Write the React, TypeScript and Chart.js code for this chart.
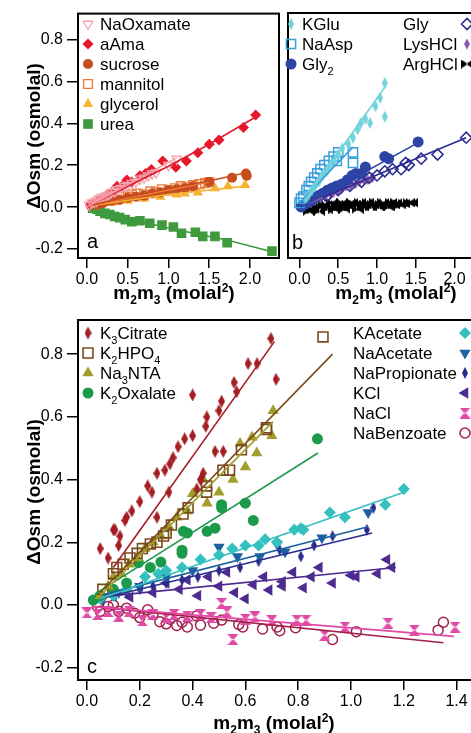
import React, { useEffect, useRef } from 'react';
import { Chart, registerables } from 'chart.js';
import { drawPoint } from 'chart.js/helpers';
Chart.register(...registerables);

const FONT = "'Liberation Sans', Arial, Helvetica, sans-serif";

// ---------- tick values ----------
const A_X_TICKS = [0, 0.5, 1.0, 1.5, 2.0];
const B_X_TICKS = [0, 0.5, 1.0, 1.5, 2.0];
const AB_Y_TICKS = [-0.2, 0, 0.2, 0.4, 0.6, 0.8];
const C_X_TICKS = [0, 0.2, 0.4, 0.6, 0.8, 1.0, 1.2, 1.4];
const C_Y_TICKS = [-0.2, 0, 0.2, 0.4, 0.6, 0.8];

// ---------- panel a ----------
const NAOX_X = [0.03, 0.06, 0.09, 0.12, 0.15, 0.18, 0.21, 0.24, 0.27, 0.3, 0.34, 0.38, 0.42, 0.46, 0.5, 0.55, 0.6, 0.65, 0.7, 0.75, 0.8, 0.85, 1.0, 1.1];
const NAOX_Y = [0.01, 0.02, 0.025, 0.03, 0.04, 0.045, 0.05, 0.055, 0.06, 0.07, 0.075, 0.085, 0.09, 0.1, 0.105, 0.115, 0.12, 0.135, 0.14, 0.15, 0.16, 0.165, 0.2, 0.23];
const NAOX_FX = [0.02, 1.1];
const NAOX_FY = [0.005, 0.235];

const AAMA_X = [0.04, 0.08, 0.13, 0.18, 0.24, 0.3, 0.37, 0.43, 0.49, 0.55, 0.65, 0.72, 0.79, 0.93, 1.09, 1.22, 1.36, 1.5, 1.62, 1.92, 2.07];
const AAMA_Y = [0.01, 0.02, 0.03, 0.04, 0.055, 0.07, 0.1, 0.1, 0.13, 0.12, 0.15, 0.16, 0.18, 0.22, 0.19, 0.22, 0.26, 0.3, 0.32, 0.38, 0.44];
const AAMA_FX = [0.02, 0.5, 1.0, 1.5, 2.07];
const AAMA_FY = [0.005, 0.1, 0.195, 0.3, 0.43];

const SUCR_X = [0.05, 0.1, 0.15, 0.2, 0.3, 0.4, 0.5, 0.6, 0.7, 0.8, 0.9, 1.0, 1.1, 1.2, 1.3, 1.5, 1.78, 1.95, 1.96];
const SUCR_Y = [0.005, 0.01, 0.015, 0.02, 0.03, 0.035, 0.045, 0.05, 0.055, 0.065, 0.07, 0.08, 0.085, 0.09, 0.1, 0.12, 0.14, 0.16, 0.15];
const SUCR_FX = [0.02, 0.5, 1.0, 1.5, 1.96];
const SUCR_FY = [0.005, 0.05, 0.09, 0.125, 0.165];

const MANN_X = [0.08, 0.15, 0.22, 0.3, 0.36, 0.42, 0.5, 0.55, 0.62, 0.7, 0.78, 0.85, 0.92, 1.0, 1.08, 1.15, 1.22, 1.3, 1.38, 1.45, 1.5];
const MANN_Y = [0.01, 0.02, 0.03, 0.04, 0.035, 0.05, 0.05, 0.06, 0.065, 0.06, 0.075, 0.07, 0.085, 0.08, 0.09, 0.1, 0.095, 0.105, 0.11, 0.115, 0.12];
const MANN_FX = [0.02, 1.5];
const MANN_FY = [0.005, 0.12];

const GLYC_X = [0.1, 0.3, 0.5, 0.7, 0.9, 1.1, 1.2, 1.36, 1.57, 1.73, 1.94];
const GLYC_Y = [0.01, 0.02, 0.03, 0.04, 0.05, 0.06, 0.065, 0.07, 0.09, 0.1, 0.105];
const GLYC_FX = [0.02, 1.0, 1.94];
const GLYC_FY = [0.005, 0.06, 0.1];

const UREA_X = [0.07, 0.12, 0.16, 0.22, 0.28, 0.34, 0.4, 0.47, 0.55, 0.65, 0.77, 0.92, 1.06, 1.16, 1.33, 1.42, 1.57, 1.72, 2.27];
const UREA_Y = [-0.005, -0.01, -0.02, -0.03, -0.035, -0.045, -0.05, -0.06, -0.07, -0.065, -0.077, -0.086, -0.095, -0.125, -0.12, -0.14, -0.14, -0.17, -0.21];
const UREA_FX = [0.05, 0.5, 1.0, 1.5, 1.72, 2.27];
const UREA_FY = [-0.01, -0.055, -0.1, -0.14, -0.157, -0.213];

// ---------- panel b ----------
const KGLU_X = [0.08, 0.12, 0.16, 0.2, 0.25, 0.3, 0.35, 0.4, 0.45, 0.5, 0.55, 0.63, 0.69, 0.75, 0.79, 0.85, 0.91, 0.98, 1.04, 1.1, 1.1];
const KGLU_Y = [0.04, 0.06, 0.08, 0.1, 0.12, 0.15, 0.17, 0.2, 0.22, 0.25, 0.28, 0.3, 0.33, 0.37, 0.4, 0.42, 0.4, 0.48, 0.52, 0.59, 0.43];
const KGLU_FX = [0.07, 1.1];
const KGLU_FY = [0.033, 0.57];

const NAASP_X = [0.0, 0.02, 0.05, 0.09, 0.12, 0.15, 0.19, 0.23, 0.27, 0.32, 0.38, 0.44, 0.48, 0.5, 0.69, 0.69];
const NAASP_Y = [0.02, 0.04, 0.05, 0.08, 0.1, 0.12, 0.14, 0.16, 0.18, 0.2, 0.22, 0.24, 0.22, 0.26, 0.26, 0.21];
const NAASP_FX = [0.0, 0.69];
const NAASP_FY = [0.02, 0.285];

const GLY2_X = [0.02, 0.06, 0.1, 0.15, 0.2, 0.25, 0.3, 0.36, 0.42, 0.48, 0.55, 0.62, 0.68, 0.73, 0.8, 0.85, 1.1, 1.15, 1.53];
const GLY2_Y = [0.0, 0.01, 0.02, 0.03, 0.045, 0.055, 0.065, 0.08, 0.09, 0.1, 0.11, 0.13, 0.15, 0.16, 0.16, 0.19, 0.24, 0.23, 0.31];
const GLY2_FX = [0.02, 1.55];
const GLY2_FY = [0.0, 0.31];

const GLY_X = [0.35, 0.5, 0.65, 0.8, 0.9, 1.0, 1.1, 1.2, 1.31, 1.37, 1.41, 1.57, 1.78, 2.15];
const GLY_Y = [0.05, 0.08, 0.1, 0.12, 0.14, 0.15, 0.17, 0.18, 0.18, 0.21, 0.2, 0.23, 0.25, 0.33];
const GLY_FX = [0.3, 2.15];
const GLY_FY = [0.045, 0.33];

const LYS_X = [0.15, 0.2, 0.27, 0.33, 0.4, 0.44, 0.5, 0.55, 0.6, 0.66, 0.72, 0.77, 0.83, 0.88, 0.94];
const LYS_Y = [0.02, 0.03, 0.04, 0.05, 0.06, 0.07, 0.08, 0.09, 0.1, 0.1, 0.11, 0.12, 0.13, 0.13, 0.14];
const LYS_FX = [0.1, 0.95];
const LYS_FY = [0.015, 0.14];

const ARG_X = [0.12, 0.15, 0.18, 0.22, 0.25, 0.28, 0.32, 0.35, 0.38, 0.42, 0.45, 0.48, 0.52, 0.55, 0.58, 0.62, 0.65, 0.68, 0.72, 0.75, 0.78, 0.82, 0.85, 0.88, 0.92, 0.95, 0.98, 1.02, 1.05, 1.08, 1.12, 1.15, 1.18, 1.22, 1.25, 1.3, 1.35, 1.41, 1.45];
const ARG_Y = [-0.02, 0.0, -0.01, 0.01, -0.02, 0.0, 0.01, -0.01, 0.0, 0.02, -0.01, 0.01, 0.0, 0.02, -0.01, 0.01, 0.0, 0.02, 0.01, -0.01, 0.02, 0.0, 0.01, 0.02, 0.0, 0.01, 0.02, 0.0, 0.01, 0.02, 0.01, 0.0, 0.02, 0.01, 0.02, 0.01, 0.015, 0.02, 0.02];

// ---------- panel c ----------
const CIT_X = [0.05, 0.08, 0.1, 0.106, 0.12, 0.125, 0.144, 0.15, 0.17, 0.2, 0.23, 0.246, 0.265, 0.265, 0.295, 0.31, 0.314, 0.326, 0.345, 0.37, 0.4, 0.4, 0.416, 0.43, 0.44, 0.45, 0.454, 0.485, 0.5, 0.51, 0.516, 0.557, 0.567, 0.61, 0.644, 0.697, 0.716];
const CIT_Y = [0.18, 0.15, 0.24, 0.24, 0.19, 0.22, 0.27, 0.28, 0.3, 0.33, 0.38, 0.36, 0.42, 0.28, 0.43, 0.36, 0.45, 0.47, 0.505, 0.53, 0.54, 0.67, 0.37, 0.4, 0.42, 0.57, 0.6, 0.49, 0.62, 0.65, 0.49, 0.71, 0.68, 0.77, 0.77, 0.85, 0.72];
const CIT_FX = [0.1, 0.71];
const CIT_FY = [0.12, 0.84];

const HPO_X = [0.06, 0.1, 0.113, 0.137, 0.163, 0.19, 0.21, 0.24, 0.265, 0.29, 0.3, 0.32, 0.364, 0.383, 0.453, 0.453, 0.515, 0.54, 0.585, 0.68, 0.68, 0.894];
const HPO_Y = [0.05, 0.1, 0.12, 0.13, 0.15, 0.165, 0.18, 0.195, 0.2, 0.22, 0.23, 0.255, 0.29, 0.31, 0.38, 0.36, 0.43, 0.43, 0.495, 0.565, 0.56, 0.855];
const HPO_FX = [0.05, 0.93];
const HPO_FY = [0.04, 0.8];

const NTA_X = [0.05, 0.08, 0.1, 0.13, 0.16, 0.19, 0.22, 0.25, 0.28, 0.31, 0.34, 0.38, 0.4, 0.44, 0.455, 0.5, 0.553, 0.58, 0.6, 0.625, 0.643, 0.7, 0.705];
const NTA_Y = [0.03, 0.06, 0.09, 0.1, 0.13, 0.15, 0.18, 0.2, 0.22, 0.25, 0.28, 0.3, 0.355, 0.4, 0.325, 0.36, 0.4, 0.515, 0.44, 0.535, 0.485, 0.54, 0.62];
const NTA_FX = [0.05, 0.705];
const NTA_FY = [0.03, 0.585];

const OXA_X = [0.024, 0.05, 0.1, 0.15, 0.195, 0.24, 0.28, 0.36, 0.36, 0.365, 0.38, 0.455, 0.485, 0.51, 0.51, 0.6, 0.63, 0.873];
const OXA_Y = [0.016, 0.03, 0.05, 0.07, 0.135, 0.12, 0.137, 0.175, 0.165, 0.235, 0.23, 0.235, 0.245, 0.32, 0.31, 0.325, 0.27, 0.53];
const OXA_FX = [0.03, 0.875];
const OXA_FY = [0.035, 0.485];

const KAC_X = [0.05, 0.1, 0.15, 0.22, 0.27, 0.3, 0.36, 0.43, 0.5, 0.55, 0.6, 0.65, 0.675, 0.72, 0.785, 0.81, 0.82, 0.92, 0.977, 1.13, 1.2];
const KAC_Y = [0.02, 0.03, 0.05, 0.09, 0.1, 0.11, 0.12, 0.145, 0.16, 0.18, 0.19, 0.19, 0.21, 0.2, 0.24, 0.245, 0.24, 0.295, 0.28, 0.32, 0.37];
const KAC_FX = [0.05, 1.2];
const KAC_FY = [0.02, 0.36];

const NAAC_X = [0.06, 0.12, 0.2, 0.3, 0.4, 0.5, 0.57, 0.655, 0.72, 0.75, 0.89, 1.065];
const NAAC_Y = [0.02, 0.04, 0.06, 0.09, 0.11, 0.185, 0.155, 0.155, 0.195, 0.17, 0.215, 0.295];
const NAAC_FX = [0.05, 1.065];
const NAAC_FY = [0.03, 0.25];

const NAPR_X = [0.06, 0.1, 0.15, 0.2, 0.25, 0.3, 0.36, 0.42, 0.5, 0.58, 0.65, 0.73, 0.81, 0.86, 0.93, 1.06, 1.085];
const NAPR_Y = [0.02, 0.03, 0.04, 0.05, 0.06, 0.07, 0.08, 0.09, 0.11, 0.12, 0.14, 0.175, 0.155, 0.19, 0.22, 0.24, 0.31];
const NAPR_FX = [0.05, 1.08];
const NAPR_FY = [0.02, 0.23];

const KCL_X = [0.1, 0.163, 0.2, 0.25, 0.3, 0.35, 0.38, 0.42, 0.46, 0.5, 0.53, 0.56, 0.6, 0.63, 0.67, 0.69, 0.74, 0.74, 0.78, 0.82, 0.85, 0.88, 0.93, 1.0, 1.02, 1.1, 1.136, 1.155];
const KCL_Y = [0.03, 0.025, 0.06, 0.04, 0.07, 0.05, 0.08, 0.03, 0.09, 0.06, 0.105, 0.04, 0.02, 0.065, 0.09, 0.048, 0.075, 0.06, 0.105, 0.055, 0.09, 0.12, 0.07, 0.095, 0.09, 0.1, 0.145, 0.12];
const KCL_FX = [0.1, 1.17];
const KCL_FY = [0.03, 0.12];

const NACL_X = [0.0, 0.04, 0.08, 0.12, 0.16, 0.21, 0.25, 0.3, 0.33, 0.38, 0.43, 0.47, 0.51, 0.53, 0.553, 0.6, 0.636, 0.7, 0.795, 0.83, 0.9, 0.977, 1.14, 1.24, 1.394];
const NACL_Y = [-0.025, -0.03, -0.02, -0.035, -0.02, -0.05, -0.03, -0.04, -0.03, -0.035, -0.03, -0.04, 0.005, -0.022, -0.11, -0.045, -0.038, -0.05, -0.048, -0.048, -0.096, -0.07, -0.058, -0.08, -0.07];
const NACL_FX = [0.02, 1.39];
const NACL_FY = [-0.005, -0.1];

const NABZ_X = [0.04, 0.05, 0.08, 0.1, 0.12, 0.15, 0.18, 0.2, 0.23, 0.25, 0.276, 0.3, 0.315, 0.34, 0.36, 0.38, 0.415, 0.43, 0.48, 0.51, 0.575, 0.59, 0.665, 0.72, 0.73, 0.79, 0.93, 1.02, 1.33, 1.35];
const NABZ_Y = [-0.005, -0.02, -0.005, 0.0, -0.02, -0.01, -0.026, -0.04, -0.015, -0.03, -0.053, -0.06, -0.045, -0.065, -0.055, -0.07, -0.035, -0.064, -0.058, -0.048, -0.062, -0.07, -0.076, -0.07, -0.082, -0.072, -0.11, -0.085, -0.08, -0.055];
const NABZ_FX = [0.03, 1.35];
const NABZ_FY = [-0.005, -0.12];

// ---------- styles ----------
type St = { c: string; shape: string; r: number; rot?: number; open?: boolean; w?: number; h?: number; bw?: number };
type Series = { label: string; x: number[]; y: number[]; fx?: number[]; fy?: number[]; st: St };

const shapeCache = new Map<string, HTMLCanvasElement>();
function customShape(st: St): HTMLCanvasElement {
  const key = st.shape + st.c + st.w + 'x' + st.h;
  const hit = shapeCache.get(key);
  if (hit) return hit;
  const w = st.w || 8, h = st.h || 8;
  const cv = document.createElement('canvas');
  cv.width = w; cv.height = h;
  const g = cv.getContext('2d')!;
  g.fillStyle = st.c;
  g.beginPath();
  if (st.shape === 'thinDiamond') {
    g.moveTo(w / 2, 0); g.lineTo(w, h / 2); g.lineTo(w / 2, h); g.lineTo(0, h / 2); g.closePath();
  } else if (st.shape === 'bowtie') {
    g.moveTo(0, 0); g.lineTo(w / 2 + 1, h / 2); g.lineTo(0, h); g.closePath();
    g.moveTo(w, 0); g.lineTo(w / 2 - 1, h / 2); g.lineTo(w, h); g.closePath();
  } else if (st.shape === 'hourglass') {
    g.moveTo(0, 0); g.lineTo(w, 0); g.lineTo(w / 2, h / 2 + 1); g.closePath();
    g.moveTo(0, h); g.lineTo(w, h); g.lineTo(w / 2, h / 2 - 1); g.closePath();
  }
  g.fill();
  shapeCache.set(key, cv);
  return cv;
}

function pointOpts(st: St) {
  const custom = ['thinDiamond', 'bowtie', 'hourglass'].includes(st.shape);
  return {
    pointStyle: custom ? customShape(st) : st.shape,
    pointRadius: st.r,
    pointRotation: st.rot || 0,
    pointBackgroundColor: st.open ? 'rgba(0,0,0,0)' : st.c,
    pointBorderColor: st.c,
    pointBorderWidth: st.open ? (st.bw || 1.5) : 0,
  };
}

const S_NAOX: Series = { label: 'NaOxamate', x: NAOX_X, y: NAOX_Y, fx: NAOX_FX, fy: NAOX_FY, st: { c: '#f3a3ad', shape: 'triangle', rot: 180, r: 5.5, open: true, bw: 1.3 } };
const S_AAMA: Series = { label: 'aAma', x: AAMA_X, y: AAMA_Y, fx: AAMA_FX, fy: AAMA_FY, st: { c: '#e5192b', shape: 'rectRot', r: 5.5 } };
const S_SUCR: Series = { label: 'sucrose', x: SUCR_X, y: SUCR_Y, fx: SUCR_FX, fy: SUCR_FY, st: { c: '#c54d1f', shape: 'circle', r: 5 } };
const S_MANN: Series = { label: 'mannitol', x: MANN_X, y: MANN_Y, fx: MANN_FX, fy: MANN_FY, st: { c: '#ee7a3c', shape: 'rect', r: 6.2, open: true, bw: 1.4 } };
const S_GLYC: Series = { label: 'glycerol', x: GLYC_X, y: GLYC_Y, fx: GLYC_FX, fy: GLYC_FY, st: { c: '#f8b232', shape: 'triangle', r: 6 } };
const S_UREA: Series = { label: 'urea', x: UREA_X, y: UREA_Y, fx: UREA_FX, fy: UREA_FY, st: { c: '#3f9a3e', shape: 'rect', r: 6.8 } };

const S_KGLU: Series = { label: 'KGlu', x: KGLU_X, y: KGLU_Y, fx: KGLU_FX, fy: KGLU_FY, st: { c: '#70d2da', shape: 'thinDiamond', r: 5, w: 6, h: 12 } };
const S_NAASP: Series = { label: 'NaAsp', x: NAASP_X, y: NAASP_Y, fx: NAASP_FX, fy: NAASP_FY, st: { c: '#3a9edb', shape: 'rect', r: 6.5, open: true, bw: 1.5 } };
const S_GLY2: Series = { label: 'Gly_2', x: GLY2_X, y: GLY2_Y, fx: GLY2_FX, fy: GLY2_FY, st: { c: '#2c44a6', shape: 'circle', r: 5.5 } };
const S_GLY: Series = { label: 'Gly', x: GLY_X, y: GLY_Y, fx: GLY_FX, fy: GLY_FY, st: { c: '#2b2d90', shape: 'rectRot', r: 5.5, open: true, bw: 1.6 } };
const S_LYS: Series = { label: 'LysHCl', x: LYS_X, y: LYS_Y, fx: LYS_FX, fy: LYS_FY, st: { c: '#8b57aa', shape: 'thinDiamond', r: 5, w: 6, h: 11 } };
const S_ARG: Series = { label: 'ArgHCl', x: ARG_X, y: ARG_Y, st: { c: '#000000', shape: 'bowtie', r: 5, w: 12, h: 9 } };

const S_CIT: Series = { label: 'K_3Citrate', x: CIT_X, y: CIT_Y, fx: CIT_FX, fy: CIT_FY, st: { c: '#a31d23', shape: 'thinDiamond', r: 5, w: 7, h: 13 } };
const S_HPO: Series = { label: 'K_2HPO_4', x: HPO_X, y: HPO_Y, fx: HPO_FX, fy: HPO_FY, st: { c: '#7a4a1c', shape: 'rect', r: 7, open: true, bw: 1.6 } };
const S_NTA: Series = { label: 'Na_3NTA', x: NTA_X, y: NTA_Y, fx: NTA_FX, fy: NTA_FY, st: { c: '#a29e2e', shape: 'triangle', r: 6.5 } };
const S_OXA: Series = { label: 'K_2Oxalate', x: OXA_X, y: OXA_Y, fx: OXA_FX, fy: OXA_FY, st: { c: '#1b9a4a', shape: 'circle', r: 5.5 } };
const S_KAC: Series = { label: 'KAcetate', x: KAC_X, y: KAC_Y, fx: KAC_FX, fy: KAC_FY, st: { c: '#33c0bf', shape: 'rectRot', r: 6 } };
const S_NAAC: Series = { label: 'NaAcetate', x: NAAC_X, y: NAAC_Y, fx: NAAC_FX, fy: NAAC_FY, st: { c: '#1d62a0', shape: 'triangle', rot: 180, r: 6.5 } };
const S_NAPR: Series = { label: 'NaPropionate', x: NAPR_X, y: NAPR_Y, fx: NAPR_FX, fy: NAPR_FY, st: { c: '#2b2b8d', shape: 'thinDiamond', r: 5, w: 6, h: 12 } };
const S_KCL: Series = { label: 'KCl', x: KCL_X, y: KCL_Y, fx: KCL_FX, fy: KCL_FY, st: { c: '#4d2b8f', shape: 'triangle', rot: 270, r: 6.5 } };
const S_NACL: Series = { label: 'NaCl', x: NACL_X, y: NACL_Y, fx: NACL_FX, fy: NACL_FY, st: { c: '#e04aa5', shape: 'hourglass', r: 5, w: 11, h: 11 } };
const S_NABZ: Series = { label: 'NaBenzoate', x: NABZ_X, y: NABZ_Y, fx: NABZ_FX, fy: NABZ_FY, st: { c: '#a2214c', shape: 'circle', r: 5, open: true, bw: 1.5 } };

// ---------- rich text ----------
function parseRich(s: string) {
  const segs: { t: string; k: number }[] = [];
  let buf = '';
  for (let i = 0; i < s.length; i++) {
    const ch = s[i];
    if ((ch === '_' || ch === '^') && i + 1 < s.length) {
      if (buf) { segs.push({ t: buf, k: 0 }); buf = ''; }
      segs.push({ t: s[i + 1], k: ch === '_' ? -1 : 1 });
      i++;
    } else buf += ch;
  }
  if (buf) segs.push({ t: buf, k: 0 });
  return segs;
}

function drawRich(ctx: CanvasRenderingContext2D, s: string, x: number, y: number, size: number, bold: boolean, align: string) {
  const segs = parseRich(s);
  const fnt = (sz: number) => `${bold ? 'bold ' : ''}${sz}px ${FONT}`;
  const sub = Math.round(size * 0.62);
  let total = 0;
  for (const g of segs) { ctx.font = fnt(g.k ? sub : size); total += ctx.measureText(g.t).width; }
  let cx = align === 'center' ? x - total / 2 : align === 'right' ? x - total : x;
  ctx.textAlign = 'left';
  ctx.textBaseline = 'alphabetic';
  ctx.fillStyle = '#000';
  for (const g of segs) {
    ctx.font = fnt(g.k ? sub : size);
    const dy = g.k === -1 ? size * 0.28 : g.k === 1 ? -size * 0.36 : 0;
    ctx.fillText(g.t, cx, y + dy);
    cx += ctx.measureText(g.t).width;
  }
}

function drawSym(ctx: CanvasRenderingContext2D, st: St, x: number, y: number) {
  const o = pointOpts(st);
  ctx.save();
  ctx.fillStyle = o.pointBackgroundColor;
  ctx.strokeStyle = o.pointBorderColor;
  ctx.lineWidth = o.pointBorderWidth;
  drawPoint(ctx, { pointStyle: o.pointStyle as any, rotation: o.pointRotation, radius: o.pointRadius, borderWidth: o.pointBorderWidth } as any, x, y);
  ctx.restore();
}

// ---------- panel definitions (page coordinates) ----------
type Leg = { s: Series; tx: number; ty: number; sx: number };
type PanelDef = {
  left: number; top: number; w: number; h: number;
  area: { l: number; t: number; r: number; b: number };
  xMin: number; xMax: number; yMin: number; yMax: number;
  xTicks: number[]; yTicks: number[] | null;
  series: Series[];
  legend: Leg[];
  letter: { t: string; x: number; y: number };
  xTitle: { x: number; y: number };
  yTitle: { x: number; y: number } | null;
};

const PANEL_A: PanelDef = {
  left: 0, top: 0, w: 290, h: 312,
  area: { l: 78, t: 13, r: 279, b: 258 },
  xMin: -0.11, xMax: 2.356, yMin: -0.243, yMax: 0.924,
  xTicks: A_X_TICKS, yTicks: AB_Y_TICKS,
  series: [S_NAOX, S_AAMA, S_SUCR, S_MANN, S_GLYC, S_UREA],
  legend: [
    { s: S_NAOX, tx: 100, ty: 24, sx: 88 },
    { s: S_AAMA, tx: 100, ty: 44, sx: 88 },
    { s: S_SUCR, tx: 100, ty: 64, sx: 88 },
    { s: S_MANN, tx: 100, ty: 84, sx: 88 },
    { s: S_GLYC, tx: 100, ty: 104, sx: 88 },
    { s: S_UREA, tx: 100, ty: 124, sx: 88 },
  ],
  letter: { t: 'a', x: 87, y: 248 },
  xTitle: { x: 174, y: 299 },
  yTitle: { x: 33, y: 136 },
};

const PANEL_B: PanelDef = {
  left: 270, top: 0, w: 240, h: 312,
  area: { l: 279, t: 13, r: 490, b: 258 },
  xMin: -0.148, xMax: 2.457, yMin: -0.243, yMax: 0.924,
  xTicks: B_X_TICKS, yTicks: null,
  series: [S_KGLU, S_NAASP, S_GLY2, S_GLY, S_LYS, S_ARG],
  legend: [
    { s: S_KGLU, tx: 302, ty: 24, sx: 291 },
    { s: S_NAASP, tx: 302, ty: 44, sx: 291 },
    { s: S_GLY2, tx: 302, ty: 64, sx: 291 },
    { s: S_GLY, tx: 403, ty: 24, sx: 467 },
    { s: S_LYS, tx: 403, ty: 44, sx: 467 },
    { s: S_ARG, tx: 403, ty: 64, sx: 467 },
  ],
  letter: { t: 'b', x: 292, y: 249 },
  xTitle: { x: 396, y: 299 },
  yTitle: null,
};

const PANEL_C: PanelDef = {
  left: 0, top: 300, w: 500, h: 433,
  area: { l: 78, t: 320, r: 476, b: 680 },
  xMin: -0.034, xMax: 1.4735, yMin: -0.239, yMax: 0.909,
  xTicks: C_X_TICKS, yTicks: C_Y_TICKS,
  series: [S_CIT, S_HPO, S_NTA, S_OXA, S_KAC, S_NAAC, S_NAPR, S_KCL, S_NACL, S_NABZ],
  legend: [
    { s: S_CIT, tx: 100, ty: 333, sx: 88 },
    { s: S_HPO, tx: 100, ty: 353, sx: 88 },
    { s: S_NTA, tx: 100, ty: 373, sx: 88 },
    { s: S_OXA, tx: 100, ty: 393, sx: 88 },
    { s: S_KAC, tx: 353, ty: 333, sx: 465 },
    { s: S_NAAC, tx: 353, ty: 353, sx: 465 },
    { s: S_NAPR, tx: 353, ty: 373, sx: 465 },
    { s: S_KCL, tx: 353, ty: 393, sx: 465 },
    { s: S_NACL, tx: 353, ty: 413, sx: 465 },
    { s: S_NABZ, tx: 353, ty: 433, sx: 465 },
  ],
  letter: { t: 'c', x: 87, y: 673 },
  xTitle: { x: 274, y: 729 },
  yTitle: { x: 33, y: 492 },
};

function axisCfg(min: number, max: number, ticks: number[] | null, size: number, isX: boolean) {
  return {
    type: 'linear' as const,
    min, max,
    display: ticks !== null,
    afterBuildTicks: (s: any) => { if (ticks) s.ticks = ticks.map((v) => ({ value: v })); },
    afterFit: (s: any) => { if (isX) s.height = size; else s.width = size; },
    grid: { drawOnChartArea: false, drawTicks: true, tickLength: isX ? 10 : 11, color: '#000', lineWidth: 1.5 },
    border: { display: false },
    ticks: {
      color: '#000', font: { size: 16, family: FONT }, padding: isX ? 2 : 4, maxRotation: 0, autoSkip: false,
      callback: (v: any) => Number(v).toFixed(1),
    },
  };
}

function buildConfig(p: PanelDef): any {
  const datasets: any[] = [];
  for (const s of p.series) {
    if (s.fx && s.fy) {
      datasets.push({
        label: s.label + ' fit', data: s.fx.map((x, i) => ({ x, y: s.fy![i] })),
        showLine: true, pointRadius: 0, borderColor: s.st.c, borderWidth: 1.6, fill: false,
      });
    }
  }
  for (const s of p.series) {
    datasets.push({ label: s.label, data: s.x.map((x, i) => ({ x, y: s.y[i] })), showLine: false, ...pointOpts(s.st) });
  }
  const a = p.area;
  const deco = {
    id: 'deco',
    afterDatasetsDraw(chart: any) {
      const ctx: CanvasRenderingContext2D = chart.ctx;
      const ca = chart.chartArea;
      const ox = p.left, oy = p.top;
      ctx.save();
      ctx.strokeStyle = '#000';
      ctx.lineWidth = 2;
      ctx.strokeRect(ca.left, ca.top, ca.right - ca.left, ca.bottom - ca.top);
      for (const L of p.legend) {
        drawRich(ctx, L.s.label, L.tx - ox, L.ty - oy + 6, 17, false, 'left');
        drawSym(ctx, L.s.st, L.sx - ox, L.ty - oy);
      }
      ctx.fillStyle = '#000';
      ctx.font = `20px ${FONT}`;
      ctx.textAlign = 'left';
      ctx.textBaseline = 'alphabetic';
      ctx.fillText(p.letter.t, p.letter.x - ox, p.letter.y - oy);
      drawRich(ctx, 'm_2m_3 (molal^2)', p.xTitle.x - ox, p.xTitle.y - oy, 19, true, 'center');
      if (p.yTitle) {
        ctx.save();
        ctx.translate(p.yTitle.x - ox, p.yTitle.y - oy);
        ctx.rotate(-Math.PI / 2);
        drawRich(ctx, 'ΔOsm (osmolal)', 0, 7, 19, true, 'center');
        ctx.restore();
      }
      ctx.restore();
    },
  };
  return {
    type: 'scatter',
    data: { datasets },
    options: {
      responsive: false,
      animation: false,
      events: [],
      layout: { padding: { left: p.yTicks ? 0 : a.l - p.left, top: a.t - p.top, right: p.left + p.w - a.r, bottom: 0 } },
      plugins: { legend: { display: false }, tooltip: { enabled: false } },
      scales: {
        x: axisCfg(p.xMin, p.xMax, p.xTicks, p.top + p.h - a.b, true),
        y: axisCfg(p.yMin, p.yMax, p.yTicks, a.l - p.left, false),
      },
    },
    plugins: [deco],
  };
}

function Panel({ p }: { p: PanelDef }) {
  const ref = useRef<HTMLCanvasElement | null>(null);
  useEffect(() => {
    if (!ref.current) return;
    const chart = new Chart(ref.current, buildConfig(p));
    return () => chart.destroy();
  }, []);
  return (
    <canvas
      ref={ref}
      width={p.w}
      height={p.h}
      style={{ position: 'absolute', left: p.left, top: p.top, width: p.w, height: p.h }}
    />
  );
}

export default function App() {
  Chart.defaults.font.family = FONT;
  Chart.defaults.color = '#000';
  return (
    <div style={{ position: 'fixed', left: 0, top: 0, width: 471, height: 733, overflow: 'hidden', background: '#fff' }}>
      <Panel p={PANEL_A} />
      <Panel p={PANEL_B} />
      <Panel p={PANEL_C} />
    </div>
  );
}
